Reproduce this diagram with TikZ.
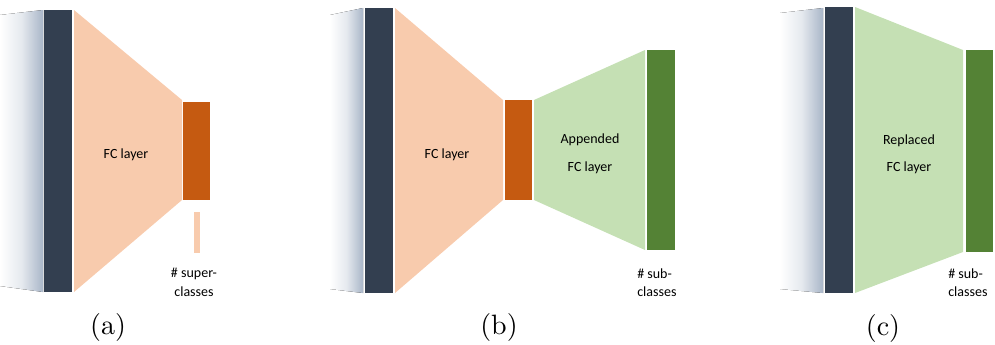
\documentclass[tikz,border=0pt]{standalone}
\usepackage{fontspec}
\newfontfamily\carlitofont{Carlito}
\definecolor{darkbar}{HTML}{333F50}
\definecolor{peach}{HTML}{F8CBAD}
\definecolor{rust}{HTML}{C55A11}
\definecolor{lgreen}{HTML}{C5E0B4}
\definecolor{dgreen}{HTML}{548235}
\definecolor{shade}{HTML}{A9B6C8}
\newcommand{\subcaptext}[1]{\scalebox{2.1}{#1}}
\tikzset{
  lbl/.style={font=\carlitofont\fontsize{10.5}{12}\selectfont, text=black, inner sep=0pt},
  subcap/.style={font=\fontsize{10}{12}\selectfont, inner sep=0pt},
  shadowfill/.style={left color=white, right color=shade, middle color=white!70!shade, draw=none},
}
\begin{document}
\begin{tikzpicture}[x=0.75pt,y=-0.75pt]
\useasboundingbox (0,0) rectangle (995,344);
% ---------- (a)
\fill[shadowfill] (0,15) -- (43,10) -- (43,292) -- (0,286) -- cycle;
\fill[darkbar] (44,10) rectangle (72,292);
\fill[peach] (74,10) -- (182,100) -- (182,200) -- (74,292) -- cycle;
\fill[rust] (183,102) rectangle (210,200);
\fill[peach] (194,212) rectangle (200,253);
\node[lbl] (fca) at (126,155) {FC layer};
\node[lbl] (supa) at (194,274) {\# super-};
\node[lbl] (supb) at (194,292) {classes};
\node[subcap] (capa) at (108,327) {\subcaptext{(a)}};
% ---------- (b)
\fill[shadowfill] (330,15) -- (363,8) -- (363,293) -- (330,289) -- cycle;
\fill[darkbar] (365,8) rectangle (393,293);
\fill[peach] (395,8) -- (503,100) -- (503,200) -- (395,293) -- cycle;
\fill[rust] (505,100) rectangle (532,200);
\fill[lgreen] (534,100) -- (645,50) -- (645,250) -- (534,200) -- cycle;
\fill[dgreen] (647,50) rectangle (675,250);
\node[lbl] (fcb) at (447,155) {FC layer};
\node[lbl] (appb) at (590,140) {Appended};
\node[lbl] (fcb2) at (590,168) {FC layer};
\node[lbl, anchor=west] (subb1) at (637,274) {\# sub-};
\node[lbl, anchor=west] (subb2) at (637,292) {classes};
\node[subcap] (capb) at (499,327) {\subcaptext{(b)}};
% ---------- (c)
\fill[shadowfill] (780,13) -- (823,8) -- (823,293) -- (780,289) -- cycle;
\fill[darkbar] (825,7) rectangle (853,293);
\fill[lgreen] (855,7) -- (963,50) -- (963,252) -- (855,293) -- cycle;
\fill[dgreen] (966,50) rectangle (993,252);
\node[lbl] (repc) at (909,141) {Replaced};
\node[lbl] (fcc) at (909,168) {FC layer};
\node[lbl, anchor=west] (subc1) at (948,274) {\# sub-};
\node[lbl, anchor=west] (subc2) at (948,292) {classes};
\node[subcap] (capc) at (883,328) {\subcaptext{(c)}};
\end{tikzpicture}
\end{document}
